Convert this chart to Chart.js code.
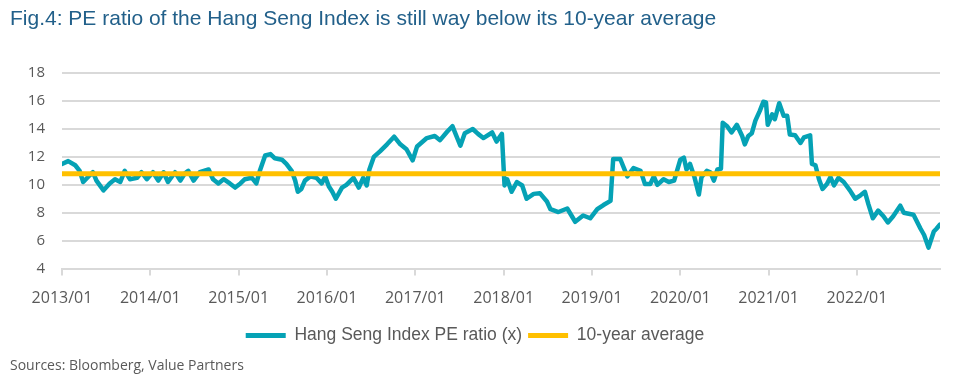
<!DOCTYPE html>
<html>
<head>
<meta charset="utf-8">
<script src="https://cdn.jsdelivr.net/npm/chart.js@4.4.1/dist/chart.umd.min.js"></script>
<style>
  body { margin: 0; background: #fff; }
  #wrap { position: relative; width: 962px; height: 383px; }
</style>
</head>
<body>
<div id="wrap"><canvas id="peChart" width="962" height="383"></canvas></div>
<script>
// Dates as decimal years
const dates = [
  2013.00, 2013.07, 2013.15, 2013.20, 2013.24, 2013.30, 2013.35, 2013.39, 2013.47, 2013.54,
  2013.60, 2013.66, 2013.71, 2013.77, 2013.85, 2013.90, 2013.96, 2014.03, 2014.09, 2014.15,
  2014.20, 2014.28, 2014.34, 2014.39, 2014.43, 2014.49, 2014.56, 2014.66, 2014.71, 2014.77,
  2014.83, 2014.90, 2014.96, 2015.02, 2015.07, 2015.15, 2015.20, 2015.24, 2015.30, 2015.36,
  2015.41, 2015.49, 2015.54, 2015.60, 2015.64, 2015.67, 2015.71, 2015.75, 2015.81, 2015.88,
  2015.94, 2015.98, 2016.02, 2016.06, 2016.10, 2016.17, 2016.22, 2016.30, 2016.36, 2016.41,
  2016.45, 2016.48, 2016.53, 2016.60, 2016.68, 2016.76, 2016.83, 2016.90, 2016.97, 2017.02,
  2017.13, 2017.22, 2017.28, 2017.36, 2017.42, 2017.51, 2017.56, 2017.65, 2017.71, 2017.77,
  2017.87, 2017.92, 2017.98, 2018.01, 2018.04, 2018.09, 2018.15, 2018.21, 2018.26, 2018.34,
  2018.41, 2018.49, 2018.53, 2018.62, 2018.72, 2018.81, 2018.90, 2018.98, 2019.06, 2019.13,
  2019.21, 2019.24, 2019.32, 2019.40, 2019.47, 2019.55, 2019.60, 2019.66, 2019.70, 2019.74,
  2019.81, 2019.87, 2019.93, 2020.00, 2020.04, 2020.07, 2020.11, 2020.16, 2020.21, 2020.24,
  2020.30, 2020.34, 2020.38, 2020.42, 2020.46, 2020.48, 2020.53, 2020.58, 2020.64, 2020.70,
  2020.73, 2020.77, 2020.81, 2020.85, 2020.90, 2020.94, 2020.97, 2020.99, 2021.04, 2021.07,
  2021.12, 2021.17, 2021.21, 2021.24, 2021.30, 2021.36, 2021.40, 2021.47, 2021.49, 2021.53,
  2021.57, 2021.61, 2021.66, 2021.70, 2021.74, 2021.79, 2021.85, 2021.92, 2021.98, 2022.04,
  2022.09, 2022.13, 2022.18, 2022.24, 2022.30, 2022.35, 2022.41, 2022.49, 2022.53, 2022.64,
  2022.72, 2022.76, 2022.81, 2022.87, 2022.90, 2022.94
];

// Hang Seng Index PE ratio (x)
const pe = [
  11.5, 11.7, 11.4, 11.0, 10.2, 10.6, 10.9, 10.3, 9.6, 10.1,
  10.4, 10.2, 11.0, 10.4, 10.5, 10.9, 10.4, 10.9, 10.3, 10.9,
  10.2, 10.9, 10.3, 10.8, 11.0, 10.3, 10.9, 11.1, 10.4, 10.1,
  10.4, 10.1, 9.8, 10.1, 10.4, 10.5, 10.1, 11.0, 12.1, 12.2,
  11.9, 11.8, 11.5, 11.0, 10.3, 9.5, 9.7, 10.3, 10.6, 10.5,
  10.1, 10.6, 9.9, 9.5, 9.0, 9.8, 10.0, 10.5, 9.8, 10.5,
  9.95, 11.1, 12.0, 12.4, 12.9, 13.45, 12.9, 12.55, 11.75, 12.75,
  13.35, 13.5, 13.2, 13.8, 14.2, 12.8, 13.7, 14.0, 13.65, 13.35,
  13.75, 13.1, 13.65, 9.95, 10.4, 9.5, 10.2, 9.95, 9.0, 9.35,
  9.4, 8.8, 8.25, 8.05, 8.3, 7.35, 7.8, 7.6, 8.25, 8.55,
  8.85, 11.85, 11.85, 10.6, 11.2, 11.0, 10.05, 10.05, 10.6, 10.0,
  10.4, 10.2, 10.3, 11.8, 11.95, 11.1, 11.5, 10.55, 9.3, 10.55,
  11.0, 10.9, 10.3, 11.1, 11.15, 14.45, 14.2, 13.75, 14.3, 13.5,
  12.9, 13.5, 13.7, 14.6, 15.3, 15.95, 15.9, 14.3, 15.05, 14.7,
  15.85, 14.95, 14.95, 13.6, 13.55, 13.0, 13.4, 13.55, 11.5, 11.4,
  10.4, 9.7, 10.05, 10.55, 9.95, 10.5, 10.2, 9.6, 9.0, 9.25,
  9.5, 8.6, 7.6, 8.15, 7.75, 7.3, 7.75, 8.5, 8.0, 7.85,
  6.85, 6.4, 5.5, 6.65, 6.85, 7.15
];

const avgValue = 10.8;

const tickYears = [2013, 2014, 2015, 2016, 2017, 2018, 2019, 2020, 2021, 2022];
const tickLabels = ['2013/01', '2014/01', '2015/01', '2016/01', '2017/01',
                    '2018/01', '2019/01', '2020/01', '2021/01', '2022/01'];
const yTicks = [4, 6, 8, 10, 12, 14, 16, 18];

const grey = '#595959';
const gridGrey = '#d9d9d9';
const startX = dates[0];
const endX = dates[dates.length - 1];

const ctx = document.getElementById('peChart').getContext('2d');

new Chart(ctx, {
  type: 'line',
  data: {
    datasets: [
      {
        label: 'Hang Seng Index PE ratio (x)',
        data: dates.map((d, i) => ({ x: d, y: pe[i] })),
        borderColor: '#05A2B5',
        backgroundColor: '#05A2B5',
        borderWidth: 4.5,
        pointRadius: 0,
        borderJoinStyle: 'round',
        borderCapStyle: 'round',
        tension: 0,
        order: 1
      },
      {
        label: '10-year average',
        data: [{ x: startX, y: avgValue }, { x: endX, y: avgValue }],
        borderColor: '#FFC000',
        backgroundColor: '#FFC000',
        borderWidth: 5,
        pointRadius: 0,
        order: 0
      }
    ]
  },
  options: {
    responsive: false,
    animation: false,
    layout: { padding: { left: 10, right: 22, bottom: 0, top: 0 } },
    scales: {
      x: {
        type: 'linear',
        min: startX,
        max: endX,
        afterBuildTicks: scale => {
          scale.ticks = tickYears.map(v => ({ value: v }));
        },
        ticks: {
          autoSkip: false,
          maxRotation: 0,
          padding: 13,
          color: grey,
          font: { family: 'Open Sans', size: 16 },
          callback: v => tickLabels[tickYears.indexOf(v)]
        },
        grid: {
          drawOnChartArea: false,
          drawTicks: true,
          tickLength: 7,
          color: gridGrey,
          lineWidth: 2
        },
        border: { color: gridGrey, width: 2 }
      },
      y: {
        min: 4,
        max: 18,
        afterBuildTicks: scale => {
          scale.ticks = yTicks.map(v => ({ value: v }));
        },
        afterFit: scale => { scale.width = 52; },
        ticks: {
          padding: 17,
          color: grey,
          font: { family: 'Open Sans', size: 15 }
        },
        grid: { color: gridGrey, lineWidth: 2, drawTicks: false },
        border: { display: false }
      }
    },
    plugins: {
      title: {
        display: true,
        text: 'Fig.4: PE ratio of the Hang Seng Index is still way below its 10-year average',
        align: 'start',
        color: '#22608A',
        font: { family: 'Liberation Sans, Arial', size: 21, weight: 'normal' },
        padding: { top: 7, bottom: 41 }
      },
      legend: {
        position: 'bottom',
        labels: {
          boxWidth: 40,
          boxHeight: 5,
          padding: 6,
          color: grey,
          font: { family: 'Liberation Sans, Arial', size: 17.5 },
          sort: (a, b) => a.datasetIndex - b.datasetIndex,
          generateLabels: chart => chart.data.datasets.map((ds, i) => ({
            text: ds.label,
            fillStyle: ds.borderColor,
            strokeStyle: ds.borderColor,
            lineWidth: 0,
            fontColor: grey,
            datasetIndex: i
          }))
        }
      },
      subtitle: {
        display: true,
        position: 'bottom',
        align: 'start',
        text: 'Sources: Bloomberg, Value Partners',
        color: grey,
        font: { family: 'Open Sans', size: 14 },
        padding: { top: 3, bottom: 9 }
      },
      tooltip: { enabled: false }
    }
  }
});
</script>
</body>
</html>
